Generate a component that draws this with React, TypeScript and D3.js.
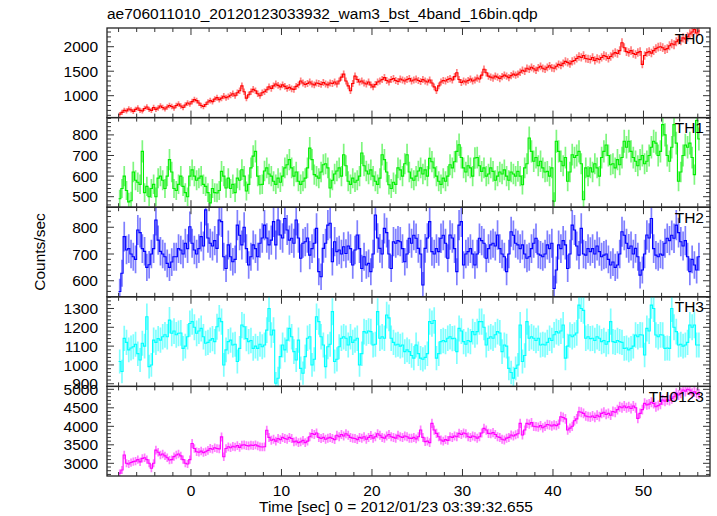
import React from "react";
import * as d3 from "d3";

// ---- data (0.25 s bins, start time of first bin centre) ----
const BIN = 0.25;
const T_START = -7.875;

const TH0 = [
  620, 660, 700, 690, 730, 710, 680, 720, 750, 700, 690, 740, 770, 720, 700, 760,
  720, 750, 790, 760, 730, 770, 800, 780, 750, 800, 830, 790, 760, 810, 850, 830,
  880, 920, 900, 850, 800, 780, 820, 870, 900, 880, 930, 960, 920, 950, 990, 960,
  980, 1010, 1040, 1000, 1060, 1100, 1200, 1080, 950, 1020, 1080, 1130, 1100, 1040, 1000, 1060,
  1080, 1120, 1180, 1150, 1200, 1240, 1210, 1180, 1220, 1190, 1150, 1170, 1140, 1130, 1190, 1220,
  1300, 1260, 1230, 1250, 1280, 1240, 1220, 1260, 1250, 1230, 1270, 1240, 1220, 1260, 1250, 1280,
  1240, 1300, 1380, 1440, 1300, 1200, 1100, 1250, 1400, 1330, 1280, 1300, 1260, 1240, 1280, 1220,
  1180, 1230, 1280, 1300, 1330, 1370, 1310, 1280, 1330, 1350, 1310, 1290, 1340, 1320, 1300, 1330,
  1350, 1300, 1320, 1340, 1310, 1290, 1330, 1300, 1280, 1320, 1260, 1180, 1100, 1200, 1280, 1310,
  1300, 1330, 1350, 1320, 1390, 1470, 1330, 1270, 1300, 1280, 1310, 1340, 1300, 1320, 1360, 1340,
  1420, 1540, 1470, 1400, 1380, 1360, 1400, 1380, 1350, 1390, 1420, 1400, 1370, 1410, 1440, 1420,
  1440, 1480, 1520, 1500, 1560, 1540, 1580, 1550, 1520, 1570, 1600, 1560, 1540, 1580, 1610, 1570,
  1560, 1600, 1640, 1620, 1660, 1700, 1680, 1650, 1700, 1720, 1760, 1800, 1780, 1820, 1760, 1750,
  1740, 1780, 1720, 1760, 1740, 1780, 1820, 1800, 1760, 1800, 1850, 1880, 1860, 1920, 2080, 1980,
  1900, 1880, 1920, 1860, 1840, 1880, 1900, 1640, 1820, 1880, 1900, 1870, 1920, 1960, 1990, 2000,
  1980, 1940, 1960, 2020, 2060, 2040, 2100, 2140, 2120, 2180, 2160, 2200, 2260, 2300, 2350, 2280,
  2320,
];

const TH1 = [
  490, 540, 600, 530, 475, 480, 620, 580, 570, 560, 720, 520, 550, 500, 540, 560,
  500, 590, 600, 580, 540, 600, 680, 620, 540, 530, 560, 600, 550, 520, 500, 600,
  630, 600, 580, 590, 600, 560, 550, 520, 470, 540, 520, 518, 530, 623, 600, 542,
  590, 540, 560, 520, 590, 580, 631, 600, 528, 560, 640, 697, 720, 600, 558, 560,
  625, 640, 610, 600, 575, 560, 590, 570, 600, 640, 655, 680, 640, 600, 620, 575,
  560, 575, 590, 640, 736, 680, 607, 600, 590, 620, 655, 660, 640, 542, 580, 610,
  625, 640, 600, 704, 650, 575, 560, 590, 570, 580, 600, 712, 650, 625, 610, 630,
  600, 575, 560, 590, 704, 680, 620, 558, 540, 570, 560, 640, 630, 600, 660, 704,
  620, 590, 580, 600, 625, 640, 610, 630, 600, 686, 670, 640, 600, 575, 560, 590,
  575, 600, 655, 640, 670, 720, 752, 690, 640, 620, 650, 640, 600, 688, 690, 650,
  623, 640, 600, 610, 640, 623, 580, 600, 620, 610, 630, 600, 580, 620, 610, 600,
  623, 600, 558, 640, 660, 785, 720, 672, 690, 650, 672, 640, 620, 623, 600, 640,
  478, 769, 720, 672, 650, 690, 575, 620, 704, 690, 700, 720, 660, 485, 640, 600,
  640, 620, 660, 640, 600, 690, 720, 751, 700, 655, 660, 640, 680, 655, 690, 769,
  740, 769, 720, 690, 672, 650, 680, 700, 660, 672, 700, 740, 769, 760, 700, 720,
  850, 800, 700, 672, 740, 850, 760, 575, 620, 700, 751, 740, 760, 690, 607, 870,
  780,
];

const TH2 = [
  560, 628, 765, 715, 720, 700, 690, 680, 790, 780, 720, 710, 650, 660, 700, 720,
  827, 752, 710, 700, 690, 665, 650, 670, 690, 690, 720, 715, 700, 740, 720, 802,
  740, 715, 700, 720, 765, 730, 865, 760, 740, 730, 750, 721, 827, 821, 690, 646,
  734, 690, 671, 680, 808, 770, 734, 800, 720, 659, 690, 734, 720, 690, 740, 760,
  808, 760, 734, 752, 821, 734, 827, 771, 760, 833, 790, 752, 759, 740, 827, 760,
  684, 740, 746, 760, 696, 720, 740, 796, 634, 615, 721, 740, 808, 815, 671, 746,
  709, 715, 700, 727, 702, 730, 720, 659, 715, 771, 720, 646, 690, 659, 665, 634,
  700, 846, 760, 721, 700, 796, 780, 700, 646, 746, 740, 750, 746, 720, 671, 700,
  759, 740, 770, 759, 721, 700, 584, 721, 760, 821, 709, 700, 720, 709, 759, 770,
  740, 684, 771, 760, 720, 634, 808, 821, 659, 700, 709, 720, 700, 659, 700, 759,
  750, 740, 684, 720, 734, 740, 730, 771, 720, 700, 690, 634, 700, 783, 770, 740,
  734, 720, 734, 700, 684, 690, 720, 740, 759, 700, 696, 690, 700, 734, 720, 740,
  571, 640, 734, 720, 750, 734, 646, 700, 808, 790, 730, 696, 796, 700, 696, 720,
  709, 720, 700, 730, 709, 690, 696, 700, 680, 659, 670, 650, 659, 700, 783, 770,
  740, 721, 730, 700, 721, 690, 621, 640, 700, 771, 760, 833, 720, 696, 690, 700,
  696, 740, 759, 750, 770, 759, 808, 780, 746, 730, 750, 690, 634, 680, 659, 640,
  690,
];

const TH3 = [
  1018, 965, 1141, 1120, 1080, 1090, 1097, 1110, 1060, 1026, 1115, 1100, 1256, 991, 1000, 1132,
  1120, 1140, 1132, 1150, 1160, 1150, 1238, 1168, 1180, 1160, 1168, 1170, 1088, 1100, 1150, 1220,
  1230, 1200, 1168, 1180, 1194, 1150, 1115, 1120, 1132, 1140, 1124, 1203, 1248, 1230, 1000, 1080,
  1124, 1132, 1106, 1110, 1018, 1088, 1212, 1203, 1140, 1124, 1130, 1088, 1100, 1088, 1110, 1097,
  1106, 1185, 1300, 1159, 1185, 903, 929, 1044, 1106, 1080, 1132, 1194, 1150, 1071, 1026, 1132,
  982, 956, 1044, 1142, 1150, 1000, 1030, 1256, 1230, 1150, 1106, 991, 1097, 1110, 1283, 1018,
  1030, 1097, 1142, 1150, 1142, 1106, 1150, 1120, 1132, 1142, 1000, 1060, 1177, 1170, 1180, 1177,
  1106, 1110, 1283, 1142, 1150, 1142, 1265, 1250, 1142, 1120, 1106, 1110, 1100, 1106, 1071, 1080,
  1071, 1050, 1036, 1106, 1060, 1036, 1030, 1040, 1060, 1230, 1220, 1236, 1036, 1060, 1124, 1130,
  1124, 1142, 1150, 1140, 1142, 1071, 1194, 1180, 1124, 1110, 1130, 1124, 1177, 1160, 1177, 1230,
  1230, 1200, 1106, 1142, 1150, 1142, 1160, 1177, 1170, 1071, 1106, 1100, 982, 960, 930, 982,
  1000, 1212, 1018, 1050, 1230, 1142, 1150, 1142, 1130, 1142, 1106, 1110, 1106, 1120, 1142, 1130,
  1160, 1177, 1170, 1180, 1212, 1036, 1100, 1159, 1150, 1159, 1170, 1318, 1300, 1290, 1142, 1150,
  1140, 1142, 1130, 1150, 1142, 1124, 1130, 1110, 1124, 1230, 1124, 1120, 1130, 1124, 1120, 1088,
  1090, 1080, 1088, 1100, 1159, 1150, 1160, 1159, 1053, 1194, 1180, 1318, 1300, 1159, 1150, 1160,
  1159, 1088, 1090, 1088, 1300, 1200, 1177, 1106, 1110, 1100, 1106, 1120, 1212, 1200, 1212, 1106,
  1106,
];

const TH0123 = [
  2730, 2820, 3223, 3000, 2980, 3020, 3045, 3060, 3100, 3040, 3134, 3150, 3100, 3000, 2866, 3000,
  3357, 3300, 3223, 3250, 3200, 3150, 3089, 3100, 3180, 3223, 3250, 3200, 3100, 3000, 2980, 3100,
  3536, 3400, 3313, 3300, 3330, 3290, 3313, 3350, 3402, 3380, 3420, 3400, 3390, 3714, 3178, 3400,
  3446, 3420, 3460, 3440, 3480, 3430, 3491, 3500, 3480, 3470, 3491, 3480, 3500, 3470, 3446, 3440,
  3446, 3893, 3700, 3625, 3650, 3600, 3670, 3640, 3700, 3670, 3650, 3700, 3670, 3580, 3600, 3560,
  3580, 3620, 3560, 3600, 3720, 3804, 3780, 3820, 3700, 3670, 3700, 3650, 3680, 3700, 3670, 3640,
  3759, 3720, 3780, 3740, 3800, 3759, 3700, 3680, 3670, 3640, 3700, 3680, 3720, 3650, 3700, 3750,
  3680, 3720, 3800, 3760, 3700, 3680, 3740, 3780, 3720, 3700, 3680, 3760, 3720, 3700, 3740, 3720,
  3680, 3675, 3700, 3660, 3720, 3900, 3700, 3585, 3600, 3560, 4080, 3900, 3810, 3720, 3630, 3600,
  3640, 3620, 3720, 3700, 3740, 3720, 3810, 3780, 3820, 3800, 3720, 3700, 3740, 3720, 3680, 3720,
  3820, 3945, 3900, 3810, 3800, 3830, 3780, 3720, 3700, 3650, 3630, 3680, 3700, 3765, 3740, 3770,
  3800, 4080, 3765, 3900, 4080, 4060, 4100, 4000, 3990, 3980, 4020, 3960, 4000, 4050, 4035, 4010,
  4040, 4020, 4060, 4260, 4240, 4200, 3900, 3950, 4000, 4150, 4200, 4395, 4380, 4350, 4280, 4260,
  4250, 4280, 4240, 4300, 4260, 4350, 4380, 4320, 4350, 4300, 4400, 4380, 4450, 4530, 4500, 4550,
  4500, 4530, 4480, 4550, 4500, 4215, 4350, 4450, 4620, 4580, 4600, 4650, 4620, 4530, 4560, 4600,
  4710, 4680, 4720, 4700, 4750, 4800, 4890, 4850, 4900, 4980, 4950, 5000, 4980, 4890, 4930, 4890,
  4870,
];

const SERIES_NAMES = ["TH0", "TH1", "TH2", "TH3", "TH0123"];
const SERIES_VALUES = [TH0, TH1, TH2, TH3, TH0123];
const SERIES_COLORS = ["#ff0000", "#00ee00", "#0000ff", "#00ffff", "#ff00ff"];
const Y_DOMAINS = [
  [553, 2382],
  [449, 884],
  [540, 875],
  [886, 1362],
  [2657, 5079],
];
const Y_MAJOR_TICKS = [
  [1000, 1500, 2000],
  [500, 600, 700, 800],
  [600, 700, 800],
  [900, 1000, 1100, 1200, 1300],
  [3000, 3500, 4000, 4500, 5000],
];
const Y_MINOR_STEP = [100, 20, 20, 20, 100];
const X_MAJOR_TICKS = [0, 10, 20, 30, 40, 50];
const X_MINOR_STEP = 2;

const TITLE = "ae706011010_20120123033932_wam3_bst_4band_16bin.qdp";
const X_LABEL = "Time [sec] 0 = 2012/01/23 03:39:32.655";
const Y_LABEL = "Counts/sec";

// ---- layout ----
const W = 717;
const H = 516;
const LEFT = 107;
const RIGHT = 710;
const TOP = 28;
const PANEL_H = 89.6;
const FONT = "'Liberation Sans', Arial, Helvetica, sans-serif";
const FS = 15.5;

export default function App() {
  const x = d3.scaleLinear().domain([-9.28, 57.35]).range([LEFT, RIGHT]);
  const xMinor = d3.range(-8, 57, X_MINOR_STEP);
  const bottomAll = TOP + PANEL_H * SERIES_NAMES.length;

  return (
    <svg
      width={W}
      height={H}
      viewBox={`0 0 ${W} ${H}`}
      style={{ position: "absolute", left: 0, top: 0, background: "#fff" }}
      fontFamily={FONT}
    >
      <defs>
        {SERIES_NAMES.map((_, k) => (
          <clipPath id={`clip${k}`} key={k}>
            <rect x={LEFT} y={TOP + k * PANEL_H} width={RIGHT - LEFT} height={PANEL_H} />
          </clipPath>
        ))}
      </defs>
      <rect x={0} y={0} width={W} height={H} fill="#fff" />
      <text x={LEFT} y={19} fontSize={FS} fill="#000">
        {TITLE}
      </text>

      {SERIES_NAMES.map((name, k) => {
        const top = TOP + k * PANEL_H;
        const bottom = top + PANEL_H;
        const [d0, d1] = Y_DOMAINS[k];
        const y = d3.scaleLinear().domain([d0, d1]).range([bottom, top]);
        const vals = SERIES_VALUES[k];
        let stepPath = "";
        let errPath = "";
        vals.forEach((v, i) => {
          const t = T_START + i * BIN;
          const e = Math.sqrt(v / BIN);
          const xc = x(t);
          const yy = y(v).toFixed(2);
          if (i === 0) stepPath += `M${x(t - BIN / 2).toFixed(2)},${yy}`;
          else stepPath += `V${yy}`;
          stepPath += `H${x(t + BIN / 2).toFixed(2)}`;
          errPath += `M${xc.toFixed(2)},${y(v - e).toFixed(2)}V${y(v + e).toFixed(2)}`;
        });
        const step = Y_MINOR_STEP[k];
        const yMinor = d3.range(Math.ceil(d0 / step) * step, d1, step);
        const color = SERIES_COLORS[k];
        return (
          <g key={name}>
            <g clipPath={`url(#clip${k})`}>
              <path d={errPath} stroke={color} strokeWidth={1.7} strokeOpacity={0.5} fill="none" />
              <path d={stepPath} stroke={color} strokeWidth={1.1} fill="none" />
            </g>
            <rect
              x={LEFT}
              y={top}
              width={RIGHT - LEFT}
              height={PANEL_H}
              fill="none"
              stroke="#222"
              strokeWidth={1.3}
            />
            {xMinor.map((tv) => {
              const major = X_MAJOR_TICKS.includes(tv);
              const len = major ? 7 : 4;
              const xx = x(tv);
              return (
                <g key={`xt${tv}`} stroke="#333" strokeWidth={1}>
                  <line x1={xx} x2={xx} y1={top} y2={top + len} />
                  <line x1={xx} x2={xx} y1={bottom} y2={bottom - len} />
                </g>
              );
            })}
            {yMinor.map((yv) => {
              const major = Y_MAJOR_TICKS[k].includes(yv);
              const len = major ? 7 : 4;
              const yy = y(yv);
              return (
                <g key={`yt${yv}`} stroke="#333" strokeWidth={1}>
                  <line x1={LEFT} x2={LEFT + len} y1={yy} y2={yy} />
                  <line x1={RIGHT} x2={RIGHT - len} y1={yy} y2={yy} />
                </g>
              );
            })}
            {Y_MAJOR_TICKS[k].map((yv) => (
              <text
                key={`yl${yv}`}
                x={98}
                y={y(yv)}
                dy="0.36em"
                textAnchor="end"
                fontSize={FS}
                fill="#000"
              >
                {yv}
              </text>
            ))}
            <text x={704} y={top + 15.5} textAnchor="end" fontSize={FS} fill="#000">
              {name}
            </text>
          </g>
        );
      })}

      {X_MAJOR_TICKS.map((tv) => (
        <text
          key={`xl${tv}`}
          x={x(tv)}
          y={bottomAll + 20}
          textAnchor="middle"
          fontSize={FS}
          fill="#000"
        >
          {tv}
        </text>
      ))}
      <text x={259} y={511.5} fontSize={FS} fill="#000">
        {X_LABEL}
      </text>
      <text
        transform={`translate(45, 252) rotate(-90)`}
        textAnchor="middle"
        fontSize={FS}
        fill="#000"
      >
        {Y_LABEL}
      </text>
    </svg>
  );
}
